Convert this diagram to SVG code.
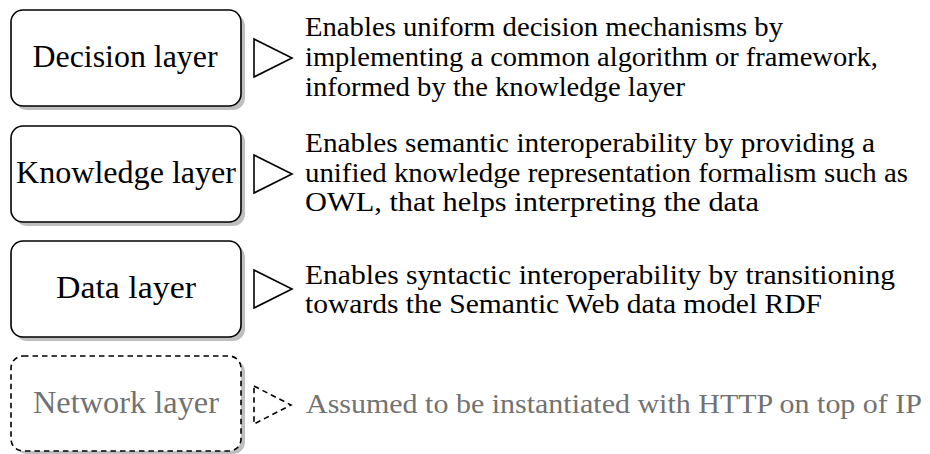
<svg xmlns="http://www.w3.org/2000/svg" width="930" height="454" viewBox="0 0 930 454">
<style>
  .shadow { fill: #bfbfbf; stroke: none; }
  .box { fill: #ffffff; stroke: #000000; stroke-width: 1.6; }
  .box.dashed { stroke-dasharray: 5.5 4; }
  .label { font-family: "Liberation Serif", "Times New Roman", serif; font-size: 31px; fill: #000000; text-anchor: middle; }
  .desc { font-family: "Liberation Serif", "Times New Roman", serif; font-size: 28px; fill: #000000; }
  .muted { fill: #727272; }
  .tri { fill: #ffffff; stroke: #000000; stroke-width: 1.6; stroke-linejoin: miter; }
  .tri.dashed { stroke-dasharray: 5.5 4; }
</style>

<g id="decision-layer">
  <rect class="shadow" x="15" y="14" width="230" height="96" rx="12"/>
  <rect class="box" x="11" y="10" width="230" height="96" rx="12"/>
  <text class="label" x="125" y="66.5" textLength="185" lengthAdjust="spacingAndGlyphs">Decision layer</text>
</g>

<g id="knowledge-layer">
  <rect class="shadow" x="15" y="130" width="230" height="96" rx="12"/>
  <rect class="box" x="11" y="126" width="230" height="96" rx="12"/>
  <text class="label" x="126" y="182.5" textLength="220" lengthAdjust="spacingAndGlyphs">Knowledge layer</text>
</g>

<g id="data-layer">
  <rect class="shadow" x="15" y="245" width="230" height="96" rx="12"/>
  <rect class="box" x="11" y="241" width="230" height="96" rx="12"/>
  <text class="label" x="126" y="297.5" textLength="140" lengthAdjust="spacingAndGlyphs">Data layer</text>
</g>

<g id="network-layer">
  <rect class="shadow" x="15" y="360" width="230" height="94" rx="12"/>
  <rect class="box dashed" x="11" y="356" width="230" height="95" rx="12"/>
  <text class="label muted" x="126" y="412.5" textLength="186" lengthAdjust="spacingAndGlyphs">Network layer</text>
</g>

<g id="connectors">
  <polygon class="tri" points="254,39 292,58 254,77"/>
  <polygon class="tri" points="254,155 292,174 254,193"/>
  <polygon class="tri" points="254,270 292,289 254,308"/>
  <polygon class="tri dashed" points="254,386 291,405 254,424"/>
</g>

<g id="decision-description">
  <text class="desc" x="305" y="36" textLength="478" lengthAdjust="spacingAndGlyphs">Enables uniform decision mechanisms by</text>
  <text class="desc" x="305" y="66" textLength="573" lengthAdjust="spacingAndGlyphs">implementing a common algorithm or framework,</text>
  <text class="desc" x="305" y="96" textLength="380" lengthAdjust="spacingAndGlyphs">informed by the knowledge layer</text>
</g>

<g id="knowledge-description">
  <text class="desc" x="305" y="152" textLength="570" lengthAdjust="spacingAndGlyphs">Enables semantic interoperability by providing a</text>
  <text class="desc" x="305" y="182" textLength="603" lengthAdjust="spacingAndGlyphs">unified knowledge representation formalism such as</text>
  <text class="desc" x="305" y="211" textLength="454" lengthAdjust="spacingAndGlyphs">OWL, that helps interpreting the data</text>
</g>

<g id="data-description">
  <text class="desc" x="305" y="284" textLength="590" lengthAdjust="spacingAndGlyphs">Enables syntactic interoperability by transitioning</text>
  <text class="desc" x="305" y="313" textLength="517" lengthAdjust="spacingAndGlyphs">towards the Semantic Web data model RDF</text>
</g>

<g id="network-description">
  <text class="desc muted" x="306" y="413" textLength="616" lengthAdjust="spacingAndGlyphs">Assumed to be instantiated with HTTP on top of IP</text>
</g>
</svg>
